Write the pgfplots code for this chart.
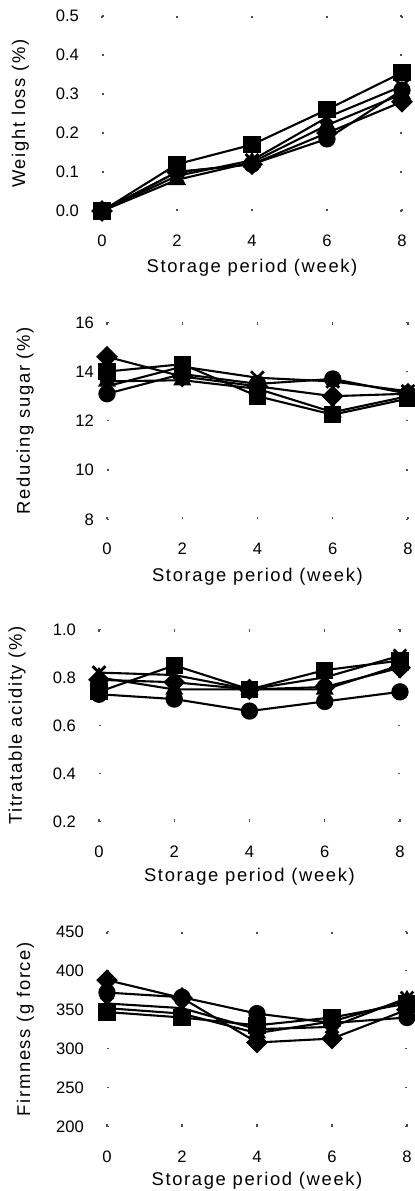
\documentclass[border=0pt]{standalone}
\usepackage{fontspec}
\setmainfont{Liberation Sans}
\newfontfamily\lblfont[LetterSpace=9]{Liberation Sans}
\usepackage{pgfplots}
\pgfplotsset{compat=1.18}
\pgfplotsset{
  panel/.style={
    scale only axis,
    anchor=south west,
    width=150pt, height=97.5pt,
    xmin=0, xmax=8, xtick={0,2,4,6,8},
    clip=false,
    axis line style={draw=none},
    tick style={black!70, line width=0.6pt},
    major tick length=1.2pt,
    tick align=inside,
    ticklabel style={font=\fontsize{8.3}{10}\selectfont},
    /pgf/number format/assume math mode=true,
    xticklabel style={yshift=-8.5pt},
    yticklabel style={xshift=-8pt},
    label style={font=\lblfont\fontsize{9.2}{11}\selectfont},
    xlabel={Storage period (week)},
    xlabel style={at={(axis description cs:0.5,0)}, anchor=center, yshift=-28.5pt},
    ylabel style={at={(axis description cs:-0.272,0.5)}, anchor=center},
    every axis plot/.append style={black, line width=1.05pt},
  },
  sC/.style={mark=*, mark size=3.8pt, mark options={solid, fill=black}},
  sS/.style={mark=square*, mark size=3.8pt, mark options={solid, fill=black}},
  sT/.style={mark=triangle*, mark size=4.2pt, mark options={solid, fill=black}},
  sD/.style={mark=square*, mark size=3.3pt, mark options={solid, fill=black, rotate=45}},
  sX/.style={mark=x, mark size=4.5pt, mark options={solid, line width=1.4pt}},
}
\begin{document}
\begin{tikzpicture}
\path[use as bounding box] (0,0) rectangle (207pt,-595.5pt);
% Panel 1: Weight loss
\begin{axis}[panel, at={(51pt,-105.5pt)}, width=150pt, height=97.5pt,
  ymin=0, ymax=0.5, ytick={0,0.1,0.2,0.3,0.4,0.5},
  yticklabel style={/pgf/number format/.cd, fixed, fixed zerofill, precision=1},
  ylabel={Weight loss (\%)}]
\addplot[sC] coordinates {(0,0)(2,0.10)(4,0.12)(6,0.185)(8,0.31)};
\addplot[sT] coordinates {(0,0)(2,0.08)(4,0.125)(6,0.22)(8,0.30)};
\addplot[sD] coordinates {(0,0)(2,0.10)(4,0.12)(6,0.20)(8,0.28)};
\addplot[sX] coordinates {(0,0)(2,0.09)(4,0.13)(6,0.24)(8,0.32)};
\addplot[sS] coordinates {(0,0)(2,0.12)(4,0.17)(6,0.26)(8,0.355)};
\end{axis}
% Panel 2: Reducing sugar
\begin{axis}[panel, at={(53.5pt,-259.65pt)}, width=150.5pt, height=98.5pt,
  ymin=8, ymax=16, ytick={8,10,12,14,16},
  yticklabel style={xshift=5pt},
  ylabel={Reducing sugar (\%)}]
\addplot[sC] coordinates {(0,13.1)(2,13.9)(4,13.5)(6,13.7)(8,13.1)};
\addplot[sT] coordinates {(0,13.6)(2,13.65)(4,13.3)(6,12.35)(8,13.0)};
\addplot[sD] coordinates {(0,14.6)(2,13.8)(4,13.4)(6,13.0)(8,13.1)};
\addplot[sX] coordinates {(0,13.4)(2,14.2)(4,13.75)(6,13.6)(8,13.2)};
\addplot[sS] coordinates {(0,14.0)(2,14.3)(4,13.0)(6,12.25)(8,12.9)};
\end{axis}
% Panel 3: Titratable acidity
\begin{axis}[panel, at={(49.5pt,-410.85pt)}, width=150.5pt, height=96.2pt,
  ymin=0.2, ymax=1.0, ytick={0.2,0.4,0.6,0.8,1.0},
  yticklabel style={/pgf/number format/.cd, fixed, fixed zerofill, precision=1},
  xlabel style={yshift=1pt},
  ylabel={Titratable acidity (\%)}]
\addplot[sC] coordinates {(0,0.73)(2,0.71)(4,0.66)(6,0.70)(8,0.74)};
\addplot[sT] coordinates {(0,0.80)(2,0.75)(4,0.75)(6,0.75)(8,0.85)};
\addplot[sD] coordinates {(0,0.79)(2,0.78)(4,0.75)(6,0.76)(8,0.84)};
\addplot[sX] coordinates {(0,0.82)(2,0.81)(4,0.75)(6,0.80)(8,0.89)};
\addplot[sS] coordinates {(0,0.74)(2,0.85)(4,0.75)(6,0.83)(8,0.87)};
\end{axis}
% Panel 4: Firmness
\begin{axis}[panel, at={(53.5pt,-563.35pt)}, width=150pt, height=97.5pt,
  ymin=200, ymax=450, ytick={200,250,300,350,400,450},
  xlabel style={yshift=1.5pt},
  ylabel={Firmness (g force)}]
\addplot[sC] coordinates {(0,372)(2,366)(4,345)(6,333)(8,340)};
\addplot[sT] coordinates {(0,352)(2,345)(4,320)(6,335)(8,362)};
\addplot[sD] coordinates {(0,388)(2,365)(4,308)(6,313)(8,350)};
\addplot[sX] coordinates {(0,358)(2,352)(4,325)(6,328)(8,365)};
\addplot[sS] coordinates {(0,347)(2,340)(4,330)(6,340)(8,358)};
\end{axis}
\end{tikzpicture}
\end{document}
